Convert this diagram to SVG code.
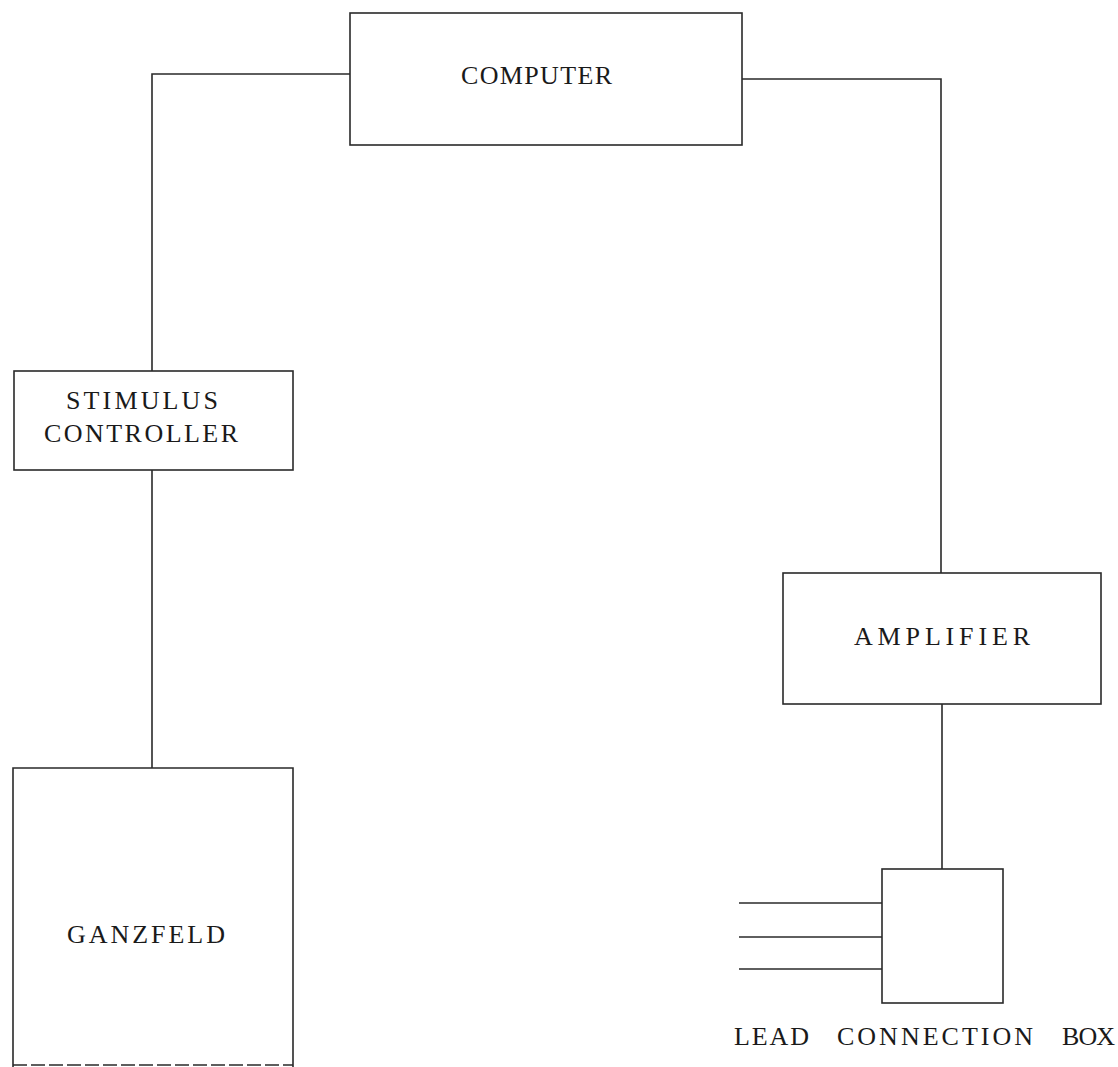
<svg xmlns="http://www.w3.org/2000/svg" width="1118" height="1067" viewBox="0 0 1118 1067">
<style>
.box{fill:none;stroke:#2a2a2a;stroke-width:1.6}
.wire{fill:none;stroke:#2a2a2a;stroke-width:1.6}
.lbl{font-family:"Liberation Serif","DejaVu Serif",serif;font-size:26px;fill:#1a1a1a}
</style>
<rect width="1118" height="1067" fill="#ffffff"/>
<g id="connectors">
<polyline class="wire" points="350,74 152,74 152,371"/>
<polyline class="wire" points="742,79 941,79 941,573"/>
<line class="wire" x1="152" y1="470" x2="152" y2="768"/>
<line class="wire" x1="942" y1="704" x2="942" y2="869"/>
<line class="wire" x1="739" y1="903" x2="882" y2="903"/>
<line class="wire" x1="739" y1="937" x2="882" y2="937"/>
<line class="wire" x1="739" y1="969" x2="882" y2="969"/>
</g>
<g id="computer">
<rect class="box" x="350" y="13" width="392" height="132"/>
<text class="lbl" x="461" y="84" textLength="151" lengthAdjust="spacing">COMPUTER</text>
</g>
<g id="stimulus-controller">
<rect class="box" x="14" y="371" width="279" height="99"/>
<text class="lbl" x="66" y="409" textLength="152" lengthAdjust="spacing">STIMULUS</text>
<text class="lbl" x="44" y="442" textLength="194" lengthAdjust="spacing">CONTROLLER</text>
</g>
<g id="ganzfeld">
<polyline class="box" points="13,1067 13,768 293,768 293,1067"/>
<line class="box" x1="13" y1="1065" x2="293" y2="1065" stroke-dasharray="14,4"/>
<text class="lbl" x="67" y="943" textLength="158" lengthAdjust="spacing">GANZFELD</text>
</g>
<g id="amplifier">
<rect class="box" x="783" y="573" width="318" height="131"/>
<text class="lbl" x="854" y="645" textLength="176" lengthAdjust="spacing">AMPLIFIER</text>
</g>
<g id="lead-connection-box">
<rect class="box" x="882" y="869" width="121" height="134"/>
<text class="lbl" y="1045"><tspan x="734" textLength="75" lengthAdjust="spacing">LEAD</tspan><tspan x="837" textLength="196" lengthAdjust="spacing">CONNECTION</tspan><tspan x="1062" textLength="53" lengthAdjust="spacing">BOX</tspan></text>
</g>
</svg>
